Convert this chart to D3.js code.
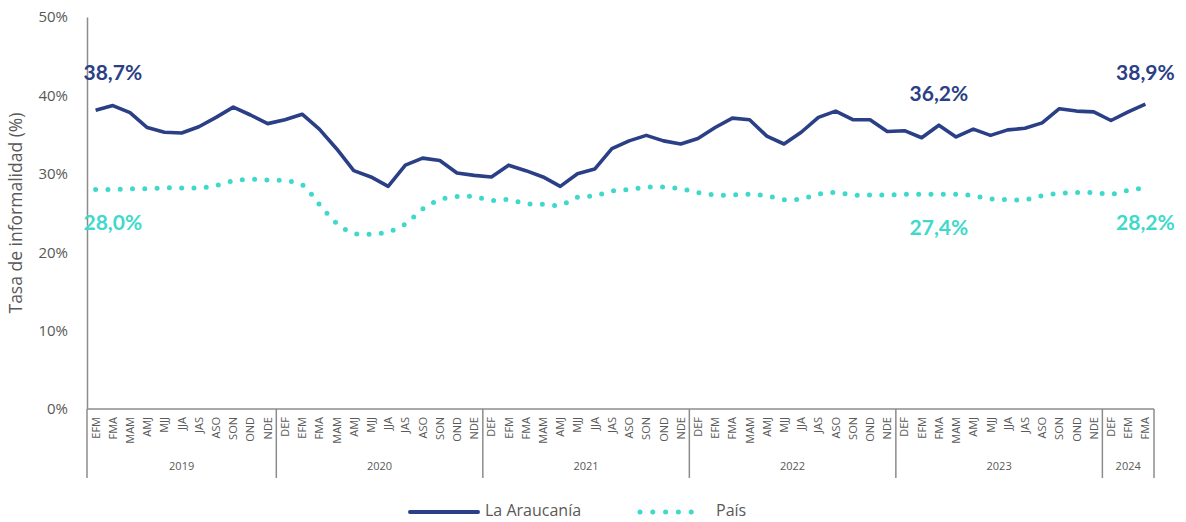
<!DOCTYPE html>
<html>
<head>
  <meta charset="utf-8">
  <title>Tasa de informalidad</title>
  <script src="https://cdn.jsdelivr.net/npm/d3@7"></script>
  <style>
    body { margin: 0; background: #fff; }
    text { font-family: "Open Sans", Lato, sans-serif; }
    text.lbl { font-family: Lato, "Open Sans", sans-serif; }
  </style>
</head>
<body>
  <div id="chart"></div>

  <script>
    // data: moving quarters EFM 2019 .. FMA 2024
    const years = ['2019', '2020', '2021', '2022', '2023', '2024']
    const quartersByYear = [
      ['EFM','FMA','MAM','AMJ','MJJ','JJA','JAS','ASO','SON','OND','NDE'],
      ['DEF','EFM','FMA','MAM','AMJ','MJJ','JJA','JAS','ASO','SON','OND','NDE'],
      ['DEF','EFM','FMA','MAM','AMJ','MJJ','JJA','JAS','ASO','SON','OND','NDE'],
      ['DEF','EFM','FMA','MAM','AMJ','MJJ','JJA','JAS','ASO','SON','OND','NDE'],
      ['DEF','EFM','FMA','MAM','AMJ','MJJ','JJA','JAS','ASO','SON','OND','NDE'],
      ['DEF','EFM','FMA']
    ]

    const araucania = [
      38.1, 38.7, 37.8, 35.9, 35.3, 35.2, 36.0, 37.2, 38.5, 37.5, 36.4,
      36.9, 37.6, 35.7, 33.2, 30.4, 29.6, 28.4, 31.1, 32.0, 31.7, 30.1, 29.8,
      29.6, 31.1, 30.4, 29.6, 28.4, 30.0, 30.6, 33.2, 34.2, 34.9, 34.2, 33.8,
      34.5, 35.9, 37.1, 36.9, 34.8, 33.8, 35.3, 37.2, 38.0, 36.9, 36.9, 35.4,
      35.5, 34.6, 36.2, 34.7, 35.7, 34.9, 35.6, 35.8, 36.5, 38.3, 38.0, 37.9,
      36.8, 37.9, 38.9
    ]
    const pais = [
      28.0, 28.0, 28.1, 28.1, 28.2, 28.2, 28.2, 28.5, 29.1, 29.3, 29.2,
      29.1, 28.6, 26.1, 23.7, 22.4, 22.3, 22.6, 23.6, 25.5, 26.7, 27.1, 27.1,
      26.6, 26.7, 26.2, 26.1, 26.0, 27.0, 27.2, 27.8, 28.0, 28.3, 28.3, 28.1,
      27.6, 27.3, 27.3, 27.4, 27.2, 26.7, 26.8, 27.4, 27.6, 27.3, 27.3, 27.3,
      27.4, 27.4, 27.4, 27.4, 27.2, 26.8, 26.7, 26.7, 27.2, 27.5, 27.6, 27.6,
      27.4, 27.9, 28.2
    ]
    const labelIndex = [1, 49, 61]
    const yTicks = [0, 10, 20, 30, 40, 50]

    const blue = '#2b3f87'
    const cyan = '#3fd9cc'
    const grey = '#595959'
    const axisGrey = '#8c8c8c'

    const width = 1186
    const height = 522
    const mLeft = 87, mRight = 1154, mTop = 17, mBottom = 409

    const cats = []
    quartersByYear.forEach((qs, yi) => qs.forEach(q => cats.push({ key: years[yi] + '-' + q, q: q, year: years[yi] })))

    const svg = d3.select('#chart').append('svg')
      .attr('width', width)
      .attr('height', height)

    const x = d3.scaleBand()
      .domain(cats.map(d => d.key))
      .range([mLeft, mRight])
    const cx = i => x(cats[i].key) + x.bandwidth() / 2

    const y = d3.scaleLinear().domain([0, 50]).range([mBottom, mTop])

    // y axis
    const yAxis = svg.append('g')
      .attr('transform', `translate(${mLeft},0)`)
      .call(d3.axisLeft(y).tickValues(yTicks).tickSize(0).tickPadding(19).tickFormat(d => d + '%'))
    yAxis.select('.domain').attr('stroke', axisGrey).attr('stroke-width', 1.5)
    yAxis.selectAll('text').attr('fill', grey).style('font-size', '15px')

    svg.append('text')
      .attr('transform', `translate(22,${(mTop + mBottom) / 2}) rotate(-90)`)
      .attr('text-anchor', 'middle')
      .attr('fill', grey)
      .style('font-size', '17.5px')
      .text('Tasa de informalidad (%)')

    // x axis (two levels)
    const xg = svg.append('g')
    xg.append('line')
      .attr('x1', mLeft).attr('x2', mRight)
      .attr('y1', mBottom).attr('y2', mBottom)
      .attr('stroke', axisGrey).attr('stroke-width', 1.5)

    xg.selectAll('.cat')
      .data(cats)
      .enter()
      .append('text')
      .attr('class', 'cat')
      .attr('transform', (d, i) => `translate(${cx(i) + 4},417) rotate(-90)`)
      .attr('text-anchor', 'end')
      .attr('fill', grey)
      .style('font-size', '11px')
      .text(d => d.q)

    let start = 0
    const yearSpans = years.map((yr, yi) => {
      const s = start
      start += quartersByYear[yi].length
      return { year: yr, first: s, last: start - 1 }
    })

    const boundaries = yearSpans.map(d => x(cats[d.first].key)).concat([mRight])
    xg.selectAll('.sep')
      .data(boundaries)
      .enter()
      .append('line')
      .attr('x1', d => d).attr('x2', d => d)
      .attr('y1', mBottom).attr('y2', 478)
      .attr('stroke', axisGrey).attr('stroke-width', 1.5)

    xg.selectAll('.yr')
      .data(yearSpans)
      .enter()
      .append('text')
      .attr('x', d => (x(cats[d.first].key) + x(cats[d.last].key) + x.bandwidth()) / 2)
      .attr('y', 470)
      .attr('text-anchor', 'middle')
      .attr('fill', grey)
      .style('font-size', '11px')
      .text(d => d.year)

    // lines
    const lineStraight = d3.line()
      .x((d, i) => cx(i))
      .y(d => y(d))

    const lineSmooth = d3.line()
      .x((d, i) => cx(i))
      .y(d => y(d))
      .curve(d3.curveCatmullRom.alpha(0.5))

    svg.append('path')
      .datum(pais)
      .attr('d', lineSmooth)
      .attr('fill', 'none')
      .attr('stroke', cyan)
      .attr('stroke-width', 5)
      .attr('stroke-linecap', 'round')
      .attr('stroke-dasharray', '0 12.3')

    svg.append('path')
      .datum(araucania)
      .attr('d', lineStraight)
      .attr('fill', 'none')
      .attr('stroke', blue)
      .attr('stroke-width', 3.6)
      .attr('stroke-linejoin', 'round')

    // data labels
    const fmt = v => v.toFixed(1).replace('.', ',') + '%'
    const labelY = { 1: [80, 230], 49: [101, 235], 61: [80, 230] }

    labelIndex.forEach(i => {
      svg.append('text')
        .attr('class', 'lbl')
        .attr('x', cx(i))
        .attr('y', labelY[i][0])
        .attr('text-anchor', 'middle')
        .attr('fill', blue)
        .style('font-size', '21px')
        .style('font-weight', 'bold')
        .text(fmt(araucania[i]))
      svg.append('text')
        .attr('class', 'lbl')
        .attr('x', cx(i))
        .attr('y', labelY[i][1])
        .attr('text-anchor', 'middle')
        .attr('fill', cyan)
        .style('font-size', '21px')
        .style('font-weight', 'bold')
        .text(fmt(pais[i]))
    })

    // legend
    const lg = svg.append('g')
    lg.append('line')
      .attr('x1', 410).attr('x2', 478).attr('y1', 512).attr('y2', 512)
      .attr('stroke', blue).attr('stroke-width', 4).attr('stroke-linecap', 'round')
    lg.append('text')
      .attr('x', 485).attr('y', 510)
      .attr('dominant-baseline', 'central')
      .attr('fill', grey).style('font-size', '16px')
      .text('La Araucanía')
    lg.append('line')
      .attr('x1', 640).attr('x2', 704).attr('y1', 512).attr('y2', 512)
      .attr('stroke', cyan).attr('stroke-width', 5).attr('stroke-linecap', 'round')
      .attr('stroke-dasharray', '0 12.8')
    lg.append('text')
      .attr('x', 716).attr('y', 510)
      .attr('dominant-baseline', 'central')
      .attr('fill', grey).style('font-size', '16px')
      .text('País')
  </script>
</body>
</html>
